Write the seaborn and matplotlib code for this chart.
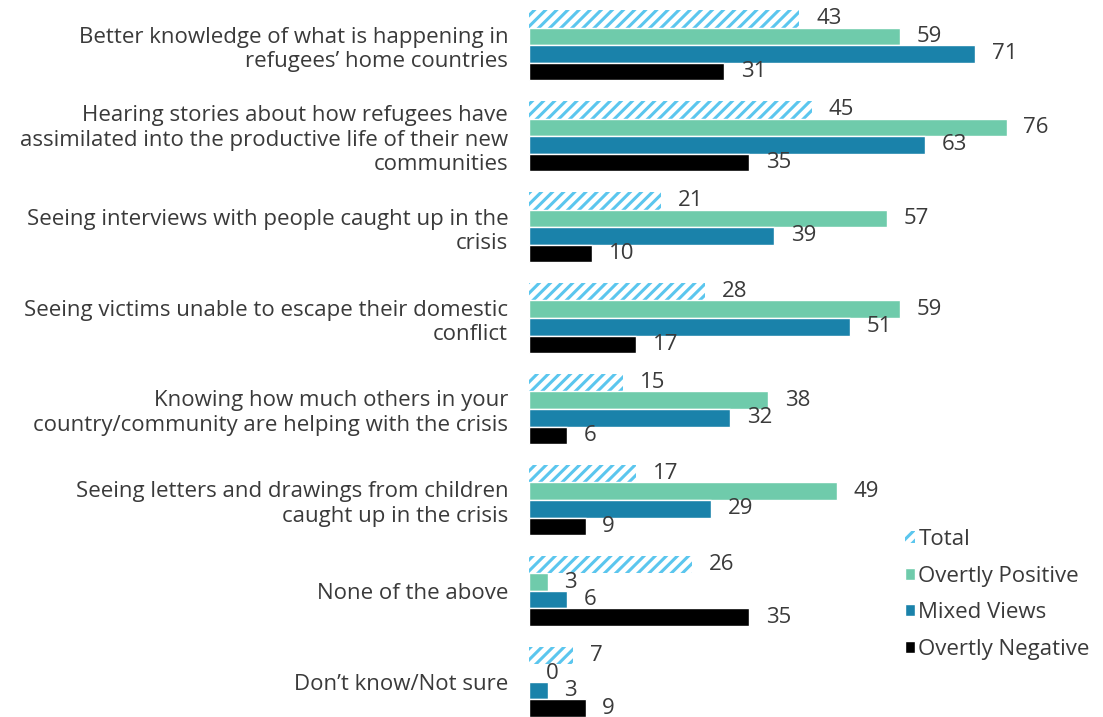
import seaborn as sns
import matplotlib.pyplot as plt
import pandas as pd
from matplotlib.patches import Patch

categories = [
    "Better knowledge of what is happening in\nrefugees\u2019 home countries",
    "Hearing stories about how refugees have\nassimilated into the productive life of their new\ncommunities",
    "Seeing interviews with people caught up in the\ncrisis",
    "Seeing victims unable to escape their domestic\nconflict",
    "Knowing how much others in your\ncountry/community are helping with the crisis",
    "Seeing letters and drawings from children\ncaught up in the crisis",
    "None of the above",
    "Don\u2019t know/Not sure",
]
series = ["Total", "Overtly Positive", "Mixed Views", "Overtly Negative"]
total = [43, 45, 21, 28, 15, 17, 26, 7]
positive = [59, 76, 57, 59, 38, 49, 3, 0]
mixed = [71, 63, 39, 51, 32, 29, 6, 3]
negative = [31, 35, 10, 17, 6, 9, 35, 9]

colors = ["#5bc6ee", "#6fcbab", "#1a82aa", "#000000"]
text_color = "#3a3a3a"

rows = []
for name, vals in zip(series, [total, positive, mixed, negative]):
    for cat, v in zip(categories, vals):
        rows.append({"category": cat, "series": name, "value": v})
df = pd.DataFrame(rows)

sns.set_style("white")
plt.rcParams["font.family"] = ["Open Sans", "DejaVu Sans"]
plt.rcParams["hatch.linewidth"] = 2.2

fig = plt.figure(figsize=(11.03, 7.17), dpi=100)
ax = fig.add_axes([529 / 1103, 0, 1 - 529 / 1103, 1])

sns.barplot(data=df, y="category", x="value", hue="series", palette=colors,
            width=0.77, orient="h", ax=ax, legend=False, saturation=1)

# hatched "Total" bars
for p in ax.containers[0]:
    p.set_facecolor("white")
    p.set_edgecolor(colors[0])
    p.set_hatch("///")
    p.set_linewidth(0)

for cont in ax.containers:
    ax.bar_label(cont, fmt="%d", padding=12, fontsize=16, color=text_color)

ax.set_xlim(0, 91.3)
ax.set_ylim(7.385, -0.495)
ax.set_xlabel("")
ax.set_ylabel("")
ax.set_xticks([])
ax.tick_params(axis="y", length=0, pad=15, labelsize=16, labelcolor=text_color)
for lab in ax.get_yticklabels():
    lab.set_linespacing(1.2)
sns.despine(ax=ax, left=True, bottom=True)

handles = [
    Patch(facecolor="white", edgecolor=colors[0], hatch="///", linewidth=0, label=series[0]),
    Patch(facecolor=colors[1], label=series[1]),
    Patch(facecolor=colors[2], label=series[2]),
    Patch(facecolor=colors[3], label=series[3]),
]
fig.legend(handles=handles, loc="upper left", bbox_to_anchor=(905 / 1103, 1 - 529 / 717),
           frameon=False, fontsize=16, handlelength=0.45, handleheight=0.45,
           handletextpad=0.15, labelspacing=0.7, labelcolor=text_color,
           borderaxespad=0, borderpad=0)

fig.savefig("out.png", dpi=100)
